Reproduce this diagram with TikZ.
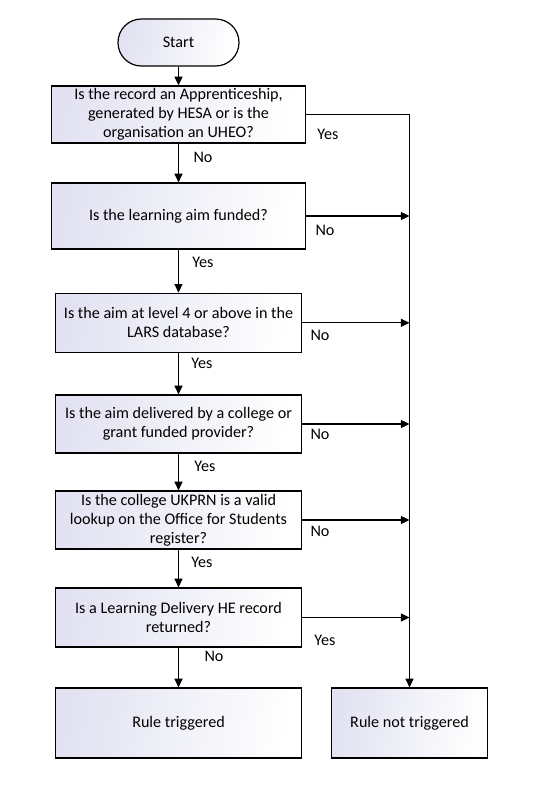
\documentclass[tikz,border=0pt]{standalone}
\usepackage{fontspec}
\setmainfont{Carlito}
\usetikzlibrary{arrows.meta,positioning}
\definecolor{boxshade}{HTML}{E2E2F2}
\definecolor{flowline}{HTML}{000000}

\begin{document}
\begin{tikzpicture}[x=0.75pt, y=-0.75pt,
    flowbox/.style={draw=flowline, line width=0.9pt, left color=boxshade, right color=white, shading angle=80, align=center, inner sep=2pt, font=\fontsize{12.1}{14.2}\selectfont},
    flowarrow/.style={draw=flowline, -{Triangle[length=6.5pt,width=6pt]}, line width=0.9pt},
    flowlabel/.style={font=\fontsize{12.1}{14.2}\selectfont, inner sep=0pt}]

    \useasboundingbox (0,0) rectangle (549,792);

    % Start terminal
    \node[flowbox, rounded corners=17.5pt, minimum width=90.75pt, minimum height=35.25pt] (start) at (178.5,42.5) {Start};

    % Question boxes (left column)
    \node[flowbox, minimum width=190.5pt, minimum height=42.75pt] (qApprent) at (178.5,114.5) {Is the record an Apprenticeship,\\generated by HESA or is the\\organisation an UHEO?};
    \node[flowbox, minimum width=190.5pt, minimum height=49.5pt] (qFunded) at (178.5,216) {Is the learning aim funded?};
    \node[flowbox, minimum width=184.3pt, minimum height=44.25pt] (qLevel) at (178.5,322.8) {Is the aim at level 4 or above in the\\LARS database?};
    \node[flowbox, minimum width=184.3pt, minimum height=43.5pt] (qCollege) at (178.5,424) {Is the aim delivered by a college or\\grant funded provider?};
    \node[flowbox, minimum width=184.3pt, minimum height=43.5pt] (qUKPRN) at (178.5,520) {Is the college UKPRN is a valid\\lookup on the Office for Students\\register?};
    \node[flowbox, minimum width=184.3pt, minimum height=44.25pt] (qHERecord) at (178.5,617.5) {Is a Learning Delivery HE record\\returned?};

    % Outcomes
    \node[flowbox, minimum width=184.3pt, minimum height=52.5pt] (ruleTrig) at (178.5,723) {Rule triggered};
    \node[flowbox, minimum width=117pt, minimum height=52.5pt] (ruleNotTrig) at (409.5,723) {Rule not triggered};

    % Main flow (downwards)
    \draw[flowarrow] (start.south) -- (qApprent.north);
    \draw[flowarrow] (qApprent.south) -- (qFunded.north);
    \draw[flowarrow] (qFunded.south) -- (qLevel.north);
    \draw[flowarrow] (qLevel.south) -- (qCollege.north);
    \draw[flowarrow] (qCollege.south) -- (qUKPRN.north);
    \draw[flowarrow] (qUKPRN.south) -- (qHERecord.north);
    \draw[flowarrow] (qHERecord.south) -- (ruleTrig.north);

    % Exits to the right-hand line
    \draw[flowarrow] (qApprent.east) -| (ruleNotTrig.north);
    \draw[flowarrow] (qFunded.east) -- (qFunded.east -| ruleNotTrig.north);
    \draw[flowarrow] (qLevel.east) -- (qLevel.east -| ruleNotTrig.north);
    \draw[flowarrow] (qCollege.east) -- (qCollege.east -| ruleNotTrig.north);
    \draw[flowarrow] (qUKPRN.east) -- (qUKPRN.east -| ruleNotTrig.north);
    \draw[flowarrow] (qHERecord.east) -- (qHERecord.east -| ruleNotTrig.north);

    % Branch labels
    \node[flowlabel] (yesApprent) at (328,134) {Yes};
    \node[flowlabel] (noApprent) at (203,157) {No};
    \node[flowlabel] (noFunded) at (325,230) {No};
    \node[flowlabel] (yesFunded) at (203,262) {Yes};
    \node[flowlabel] (noLevel) at (320,335) {No};
    \node[flowlabel] (yesLevel) at (202,363) {Yes};
    \node[flowlabel] (noCollege) at (320,434) {No};
    \node[flowlabel] (yesCollege) at (205,466) {Yes};
    \node[flowlabel] (noUKPRN) at (320,531) {No};
    \node[flowlabel] (yesUKPRN) at (202,562) {Yes};
    \node[flowlabel] (yesHERecord) at (325,640) {Yes};
    \node[flowlabel] (noHERecord) at (214,656) {No};
\end{tikzpicture}
\end{document}
